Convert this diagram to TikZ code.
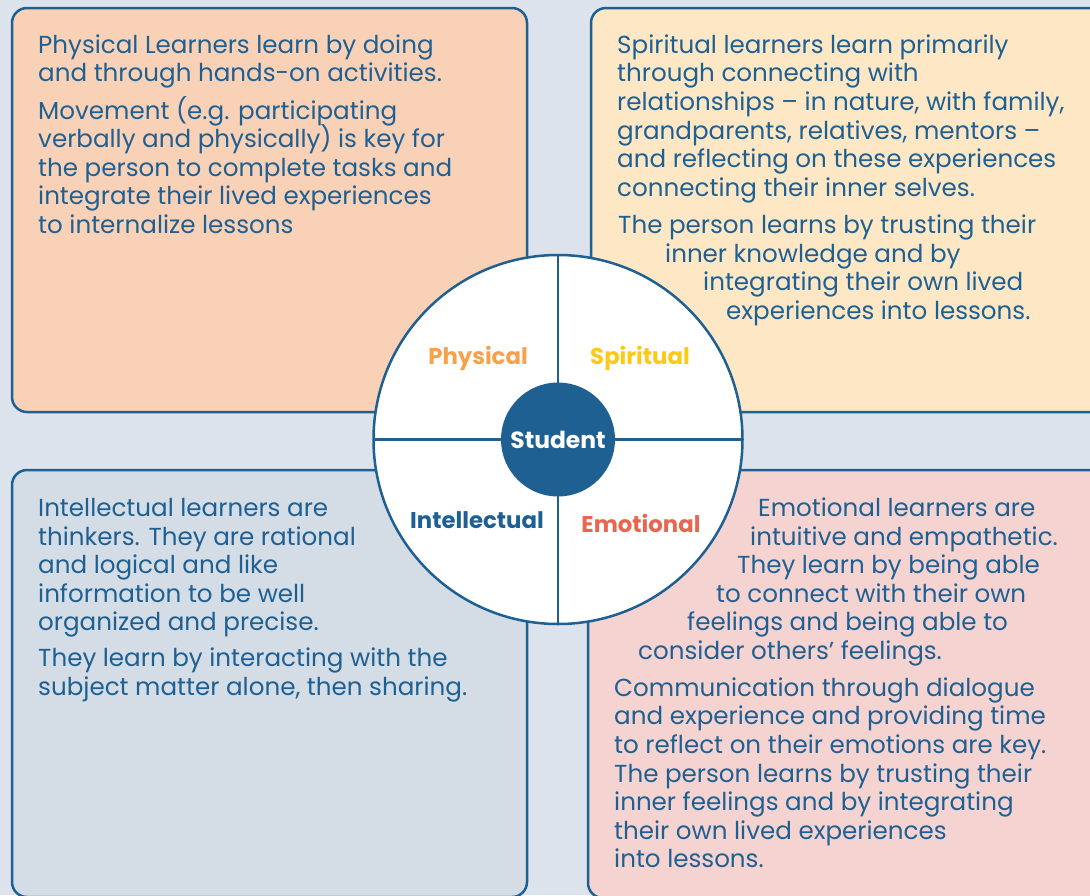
\documentclass[tikz,border=0pt]{standalone}
\usepackage{fontspec}
\setmainfont{Poppins}
\usepackage{tikz}

\definecolor{deepblue}{HTML}{1F6093}
\definecolor{pagebg}{HTML}{DCE3EC}
\definecolor{peach}{HTML}{F9D1B6}
\definecolor{cream}{HTML}{FDE7C5}
\definecolor{mist}{HTML}{D4DCE6}
\definecolor{blush}{HTML}{F5D3D0}
\definecolor{physorange}{HTML}{F8A14B}
\definecolor{spirityellow}{HTML}{FDC913}
\definecolor{emored}{HTML}{E8654F}

\tikzset{
  quadbox/.style={draw=deepblue, line width=2.5pt, rounded corners=15pt},
  body/.style={anchor=base west, inner sep=0pt, text=deepblue, font=\fontsize{24.6}{29}\selectfont},
  quadlabel/.style={inner sep=0pt, font=\bfseries\fontsize{22.8}{26}\selectfont},
  spoke/.style={draw=deepblue, line width=2.5pt},
}

\begin{document}
\begin{tikzpicture}[x=1pt,y=-1pt]

        \useasboundingbox (0,0) rectangle (1090,895);
        \clip (0,0) rectangle (1090,895);
        \fill[pagebg] (0,0) rectangle (1090,895);

        \draw[quadbox, fill=peach] (12,8) rectangle (527,412);
        \draw[quadbox, fill=cream] (591,8) rectangle (1110,412);
        \draw[quadbox, fill=mist] (12,470) rectangle (527,897);
        \draw[quadbox, fill=blush] (588,470) rectangle (1110,898);

        \node[body] (phys1) at (38,53.3) {Physical Learners learn by doing};
        \node[body] (phys2) at (38,81.9) {and through hands-on activities.};
        \node[body] (phys3) at (38,119) {Movement (e.g. participating};
        \node[body] (phys4) at (38,147.6) {verbally and physically) is key for};
        \node[body] (phys5) at (38,176.2) {the person to complete tasks and};
        \node[body] (phys6) at (38,204.8) {integrate their lived experiences};
        \node[body] (phys7) at (38,233.4) {to internalize lessons};

        \node[body] (spir1) at (617,53.3) {Spiritual learners learn primarily};
        \node[body] (spir2) at (617,81.9) {through connecting with};
        \node[body] (spir3) at (617,110.5) {relationships – in nature, with family,};
        \node[body] (spir4) at (617,139.1) {grandparents, relatives, mentors –};
        \node[body] (spir5) at (617,167.7) {and reflecting on these experiences};
        \node[body] (spir6) at (617,196.3) {connecting their inner selves.};
        \node[body] (spir7) at (618,233.4) {The person learns by trusting their};
        \node[body] (spir8) at (665,262) {inner knowledge and by};
        \node[body] (spir9) at (703,290.6) {integrating their own lived};
        \node[body] (spir10) at (726,319.2) {experiences into lessons.};

        \node[body] (intel1) at (38,516.5) {Intellectual learners are};
        \node[body] (intel2) at (38,545.1) {thinkers. They are rational};
        \node[body] (intel3) at (38,573.7) {and logical and like};
        \node[body] (intel4) at (38,602.3) {information to be well};
        \node[body] (intel5) at (38,630.9) {organized and precise.};
        \node[body] (intel6) at (38,666.8) {They learn by interacting with the};
        \node[body] (intel7) at (38,695.4) {subject matter alone, then sharing.};

        \node[body] (emo1) at (758,516.5) {Emotional learners are};
        \node[body] (emo2) at (750,545.1) {intuitive and empathetic.};
        \node[body] (emo3) at (737,573.7) {They learn by being able};
        \node[body] (emo4) at (716,602.3) {to connect with their own};
        \node[body] (emo5) at (687,630.9) {feelings and being able to};
        \node[body] (emo6) at (638,659.5) {consider others’ feelings.};
        \node[body] (emo7) at (614,696.3) {Communication through dialogue};
        \node[body] (emo8) at (614,724.9) {and experience and providing time};
        \node[body] (emo9) at (614,753.5) {to reflect on their emotions are key.};
        \node[body] (emo10) at (614,782.1) {The person learns by trusting their};
        \node[body] (emo11) at (614,810.7) {inner feelings and by integrating};
        \node[body] (emo12) at (614,839.3) {their own lived experiences};
        \node[body] (emo13) at (614,867.9) {into lessons.};

        \node[circle, draw=deepblue, line width=2.5pt, fill=white, minimum size=369pt, inner sep=0pt, outer sep=0pt] (wheel) at (558,439.5) {};
        \draw[spoke] (wheel.north) -- (wheel.south);
        \draw[spoke] (wheel.west) -- (wheel.east);
        \node[circle, fill=deepblue, minimum size=114pt, inner sep=0pt, text=white, font=\bfseries\fontsize{23.4}{26}\selectfont] (hub) at (wheel.center) {Student};

        \node[quadlabel, text=physorange] (physlabel) at (478,358) {Physical};
        \node[quadlabel, text=spirityellow] (spirlabel) at (640,358) {Spiritual};
        \node[quadlabel, text=deepblue] (intellabel) at (477,520) {Intellectual};
        \node[quadlabel, text=emored] (emolabel) at (641,523) {Emotional};
    \end{tikzpicture}
\end{document}
